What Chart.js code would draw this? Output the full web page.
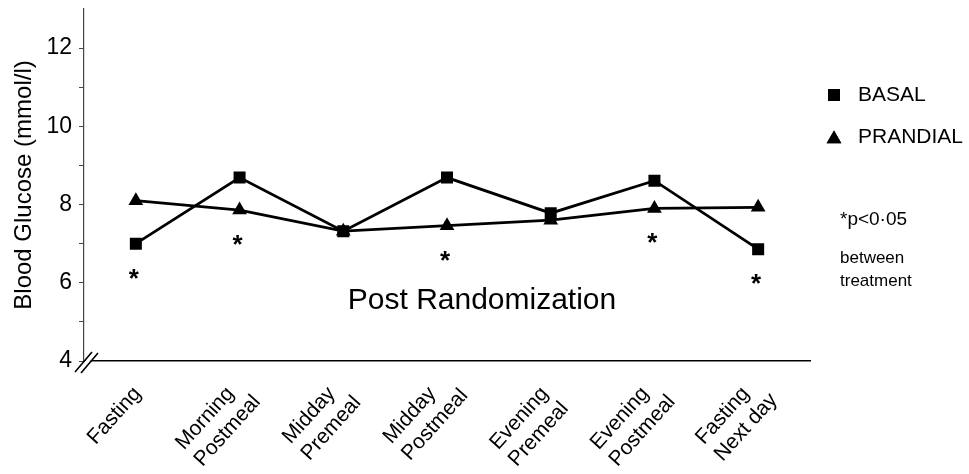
<!DOCTYPE html>
<html>
<head>
<meta charset="utf-8">
<script src="https://cdn.jsdelivr.net/npm/chart.js@4.4.1/dist/chart.umd.min.js"></script>
<style>
  html, body { margin: 0; padding: 0; background: #fff; }
  #wrap { width: 969px; height: 474px; position: relative; }
</style>
</head>
<body>
<div id="wrap"><canvas id="c" width="969" height="474"></canvas></div>
<script>
const categories = [
  'Fasting',
  ['Morning', 'Postmeal'],
  ['Midday', 'Premeal'],
  ['Midday', 'Postmeal'],
  ['Evening', 'Premeal'],
  ['Evening', 'Postmeal'],
  ['Fasting', 'Next day']
];
const basalValues    = [7.0, 8.69, 7.32, 8.69, 7.78, 8.61, 6.86];
const prandialValues = [8.1, 7.86, 7.32, 7.46, 7.6, 7.9, 7.93];
const significant    = [true, true, false, true, false, true, true];
const yTickValues    = [4, 5, 6, 7, 8, 9, 10, 11, 12];
const yLabelValues   = [4, 6, 8, 10, 12];
const seriesNames    = ['BASAL', 'PRANDIAL'];

const FONT = '"Liberation Sans", Arial, Helvetica, sans-serif';

function drawCategoryLabels(chart) {
  const ctx = chart.ctx;
  const xs = chart.scales.x;
  const size = 21, lh = 25, ang = 48 * Math.PI / 180;
  const ux = Math.cos(ang), uy = -Math.sin(ang);
  const vx = Math.sin(ang), vy = Math.cos(ang);
  const asc = 0.72 * size, desc = 0.21 * size;
  ctx.save();
  ctx.font = size + 'px ' + FONT;
  ctx.fillStyle = '#000';
  categories.forEach((lab, i) => {
    const lines = Array.isArray(lab) ? lab : [lab];
    let minX = Infinity, maxX = -Infinity, minY = Infinity;
    lines.forEach((t, k) => {
      const w = ctx.measureText(t).width;
      [[0, k * lh - asc], [w, k * lh - asc], [0, k * lh + desc], [w, k * lh + desc]].forEach(([a, p]) => {
        const sx = a * ux + p * vx, sy = a * uy + p * vy;
        minX = Math.min(minX, sx); maxX = Math.max(maxX, sx); minY = Math.min(minY, sy);
      });
    });
    const cx = xs.getPixelForValue(i) - 21;
    const ox = cx - (minX + maxX) / 2;
    const oy = chart.chartArea.bottom + 23 - minY;
    ctx.save();
    ctx.translate(ox, oy);
    ctx.rotate(-ang);
    ctx.textAlign = 'left';
    ctx.textBaseline = 'alphabetic';
    lines.forEach((t, k) => ctx.fillText(t, 0, k * lh));
    ctx.restore();
  });
  ctx.restore();
}

const overlayPlugin = {
  id: 'overlay',
  afterDraw(chart) {
    const ctx = chart.ctx;
    const ca = chart.chartArea;
    const xs = chart.scales.x, ys = chart.scales.y;
    drawCategoryLabels(chart);
    ctx.save();
    ctx.fillStyle = '#000';
    ctx.font = 'bold 26px ' + FONT;
    ctx.textAlign = 'center';
    ctx.textBaseline = 'alphabetic';
    significant.forEach((s, i) => {
      if (!s) return;
      const low = Math.min(basalValues[i], prandialValues[i]);
      const px = xs.getPixelForValue(i);
      const py = ys.getPixelForValue(low) + 28;
      ctx.fillText('*', px - 2, py + 15);
    });
    ctx.font = '30px ' + FONT;
    ctx.textBaseline = 'middle';
    ctx.fillText('Post Randomization', 482, 301);

    // axis break marks
    const bx = ca.left, by = ca.bottom;
    ctx.fillStyle = '#fff';
    ctx.beginPath();
    ctx.moveTo(bx - 7, by + 10);
    ctx.lineTo(bx + 8, by - 8);
    ctx.lineTo(bx + 13, by - 8);
    ctx.lineTo(bx - 2, by + 10);
    ctx.closePath();
    ctx.fill();
    ctx.strokeStyle = '#000';
    ctx.lineWidth = 1.6;
    ctx.beginPath();
    ctx.moveTo(bx - 9, by + 11);
    ctx.lineTo(bx + 8, by - 9);
    ctx.moveTo(bx - 3, by + 12);
    ctx.lineTo(bx + 14, by - 8);
    ctx.stroke();

    // legend
    const legendY = [95, 137];
    ctx.textAlign = 'left';
    ctx.textBaseline = 'middle';
    ctx.font = '21px ' + FONT;
    chart.data.datasets.forEach((ds, i) => {
      ctx.fillStyle = '#000';
      Chart.helpers.drawPoint(ctx, {
        pointStyle: ds.pointStyle, radius: ds.pointRadius, rotation: 0,
        borderWidth: 0
      }, 834, legendY[i] + (ds.pointStyle === 'triangle' ? 2 : 0));
      ctx.fill();
      ctx.fillText(seriesNames[i], 858, legendY[i]);
    });
    ctx.font = '19px ' + FONT;
    ctx.fillText('*p<0\u00B705', 840, 220);
    ctx.font = '17px ' + FONT;
    ctx.fillText('between', 840, 258);
    ctx.fillText('treatment', 840, 281);
    ctx.restore();
  }
};

new Chart(document.getElementById('c'), {
  type: 'line',
  data: {
    labels: categories,
    datasets: [
      {
        label: seriesNames[0],
        data: basalValues,
        borderColor: '#000',
        backgroundColor: '#000',
        borderWidth: 2.8,
        pointStyle: 'rect',
        pointRadius: 8.5,
        pointBorderWidth: 0,
        tension: 0
      },
      {
        label: seriesNames[1],
        data: prandialValues,
        borderColor: '#000',
        backgroundColor: '#000',
        borderWidth: 2.8,
        pointStyle: 'triangle',
        pointRadius: 8.5,
        pointBorderWidth: 0,
        tension: 0
      }
    ]
  },
  options: {
    responsive: false,
    animation: false,
    layout: { padding: { top: 9, right: 159, left: 0, bottom: 0 } },
    plugins: { legend: { display: false }, tooltip: { enabled: false } },
    scales: {
      x: {
        type: 'category',
        offset: true,
        grid: { display: false },
        border: { display: true, color: '#000', width: 1.5 },
        ticks: { display: false },
        afterFit(scale) {
          scale.height = 113;
          scale.paddingLeft = 0; scale.paddingRight = 0;
        }
      },
      y: {
        min: 4,
        max: 13,
        afterBuildTicks(scale) {
          scale.ticks = yTickValues.map(v => ({ value: v }));
        },
        grid: {
          display: true,
          drawOnChartArea: false,
          drawTicks: true,
          tickLength: 5,
          color: '#444',
          lineWidth: 1
        },
        border: { display: true, color: '#444', width: 1.2 },
        ticks: {
          padding: 7,
          color: '#000',
          font: { family: FONT, size: 23 },
          callback(v) { return yLabelValues.includes(v) ? String(v) : ''; }
        },
        title: {
          display: true,
          text: 'Blood Glucose (mmol/l)',
          color: '#000',
          font: { family: FONT, size: 24 },
          padding: { top: 10, bottom: 0 }
        },
        afterFit(scale) {
          scale.width = 84;
          scale.paddingTop = 0; scale.paddingBottom = 0;
        }
      }
    }
  },
  plugins: [overlayPlugin]
});
</script>
</body>
</html>
